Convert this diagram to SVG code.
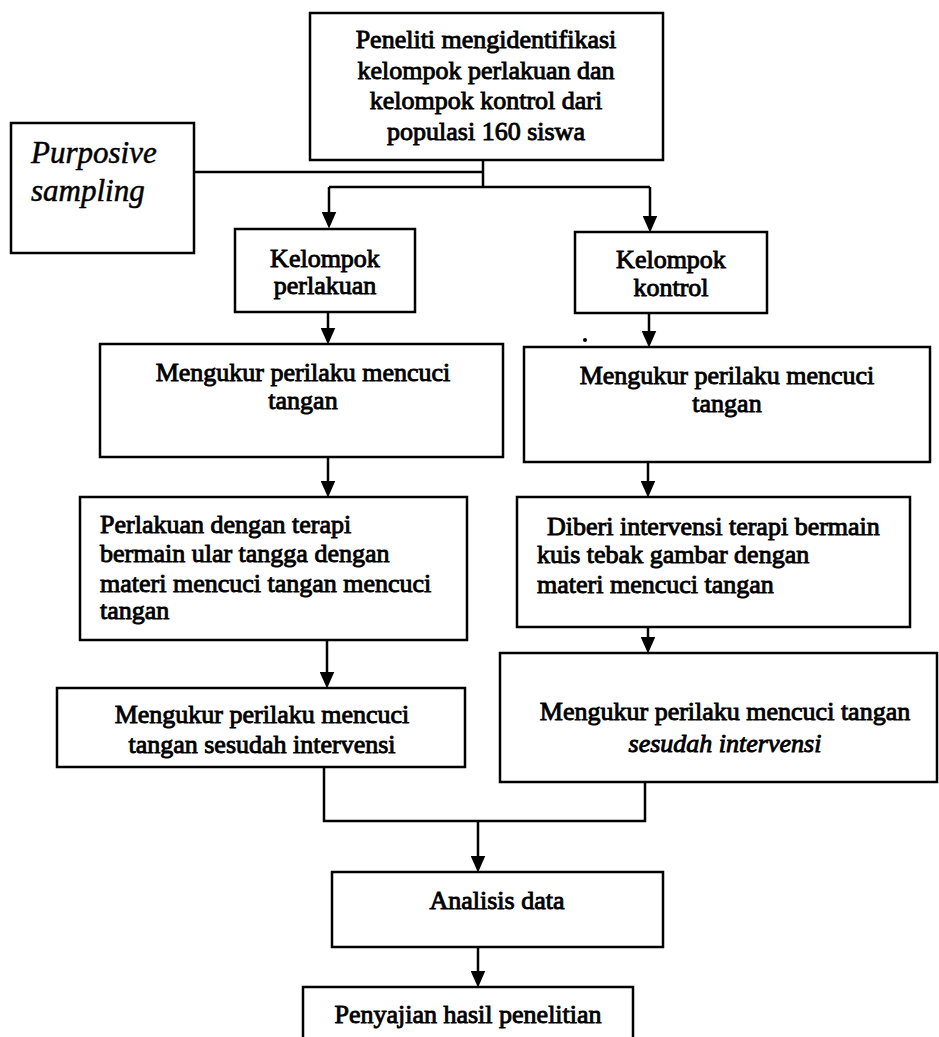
<svg xmlns="http://www.w3.org/2000/svg" width="939" height="1037" viewBox="0 0 939 1037">
<style>
  .box { fill: #ffffff; stroke: #000000; stroke-width: 2.5; }
  .t { font-family: "Liberation Serif", "Times New Roman", serif; font-size: 26px; fill: #000000; stroke: #000000; stroke-width: 0.9; }
  .c { text-anchor: middle; }
  .i { font-style: italic; }
  .ln { fill: none; stroke: #000000; stroke-width: 2.5; }
</style>
<defs>
  <marker id="ah" markerUnits="userSpaceOnUse" viewBox="0 0 17 15" markerWidth="17" markerHeight="15" refX="0.5" refY="7.5" orient="auto">
    <path d="M0,0 L17,7.5 L0,15 Z" fill="#000000"/>
  </marker>
</defs>
<rect x="0" y="0" width="939" height="1037" fill="#ffffff"/>

<g id="connectors">
  <path class="ln" d="M194,172 H483"/>
  <path class="ln" d="M483,160 V187"/>
  <path class="ln" d="M329,187 H650"/>
  <path class="ln" d="M329,187 V212" marker-end="url(#ah)"/>
  <path class="ln" d="M650,187 V216" marker-end="url(#ah)"/>
  <path class="ln" d="M328,312 V328" marker-end="url(#ah)"/>
  <path class="ln" d="M649,313 V331" marker-end="url(#ah)"/>
  <path class="ln" d="M328,457 V481" marker-end="url(#ah)"/>
  <path class="ln" d="M648,462 V481" marker-end="url(#ah)"/>
  <path class="ln" d="M327,640 V672" marker-end="url(#ah)"/>
  <path class="ln" d="M648,627 V637" marker-end="url(#ah)"/>
  <path class="ln" d="M324,767 V821 H645 V782"/>
  <path class="ln" d="M478,821 V856" marker-end="url(#ah)"/>
  <path class="ln" d="M478,947 V971" marker-end="url(#ah)"/>
</g>

<g id="node-identifikasi">
  <rect class="box" x="310" y="13" width="353" height="147"/>
  <text class="t c" x="486" y="48">Peneliti mengidentifikasi</text>
  <text class="t c" x="486" y="78.5">kelompok perlakuan dan</text>
  <text class="t c" x="486" y="109">kelompok kontrol dari</text>
  <text class="t c" x="486" y="139.5">populasi 160 siswa</text>
</g>

<g id="node-purposive">
  <rect class="box" x="11" y="123" width="183" height="130"/>
  <text class="t i" x="31" y="163" style="font-size:31px; stroke-width:0.5">Purposive</text>
  <text class="t i" x="31" y="201" style="font-size:31px; stroke-width:0.5">sampling</text>
</g>

<g id="node-kelompok-perlakuan">
  <rect class="box" x="235" y="229" width="180" height="83"/>
  <text class="t c" x="325" y="267">Kelompok</text>
  <text class="t c" x="325" y="294">perlakuan</text>
</g>

<g id="node-kelompok-kontrol">
  <rect class="box" x="575" y="232" width="192" height="81"/>
  <text class="t c" x="671" y="268">Kelompok</text>
  <text class="t c" x="671" y="296">kontrol</text>
</g>

<g id="node-ukur-perlakuan">
  <rect class="box" x="100" y="344" width="403" height="113"/>
  <text class="t c" x="303" y="381">Mengukur perilaku mencuci</text>
  <text class="t c" x="303" y="409">tangan</text>
</g>

<g id="node-ukur-kontrol">
  <rect class="box" x="524" y="347" width="406" height="115"/>
  <text class="t c" x="727" y="384">Mengukur perilaku mencuci</text>
  <text class="t c" x="727" y="412">tangan</text>
</g>

<circle cx="585" cy="340" r="2" fill="#000000"/>

<g id="node-perlakuan-terapi">
  <rect class="box" x="80" y="497" width="387" height="143"/>
  <text class="t" x="100" y="533">Perlakuan dengan terapi</text>
  <text class="t" x="100" y="562">bermain ular tangga dengan</text>
  <text class="t" x="100" y="592">materi mencuci tangan mencuci</text>
  <text class="t" x="100" y="619">tangan</text>
</g>

<g id="node-intervensi-kontrol">
  <rect class="box" x="517" y="497" width="393" height="130"/>
  <text class="t" x="547" y="535">Diberi intervensi terapi bermain</text>
  <text class="t" x="537" y="563">kuis tebak gambar dengan</text>
  <text class="t" x="537" y="593">materi mencuci tangan</text>
</g>

<g id="node-sesudah-perlakuan">
  <rect class="box" x="57" y="688" width="408" height="79"/>
  <text class="t c" x="262" y="723">Mengukur perilaku mencuci</text>
  <text class="t c" x="262" y="753">tangan sesudah intervensi</text>
</g>

<g id="node-sesudah-kontrol">
  <rect class="box" x="500" y="653" width="437" height="129"/>
  <text class="t c" x="725" y="720">Mengukur perilaku mencuci tangan</text>
  <text class="t c i" x="725" y="752">sesudah intervensi</text>
</g>

<g id="node-analisis">
  <rect class="box" x="332" y="872" width="331" height="75"/>
  <text class="t c" x="497" y="909">Analisis data</text>
</g>

<g id="node-penyajian">
  <rect class="box" x="303" y="987" width="330" height="70"/>
  <text class="t c" x="468" y="1023">Penyajian hasil penelitian</text>
</g>
</svg>
